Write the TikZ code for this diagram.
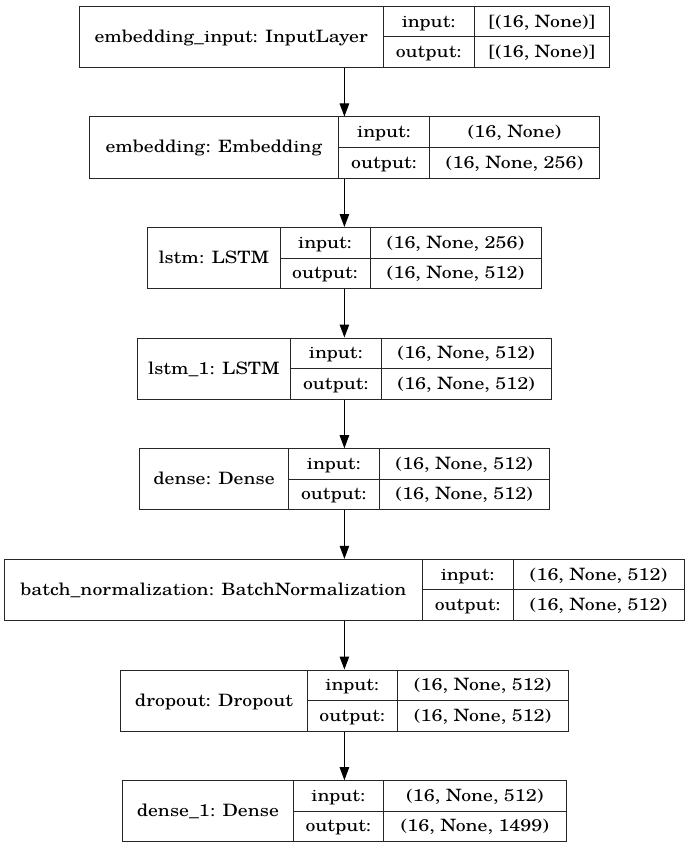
\documentclass[tikz,border=0pt]{standalone}
\usepackage{fontspec}
\setmainfont[FakeStretch=1.16]{TeX Gyre Schola}
\usetikzlibrary{arrows.meta,fit}
\tikzset{
  layerbox/.style={draw=black!85, line width=1pt, inner sep=0pt},
  cellline/.style={draw=black!85, line width=1pt},
  txt/.style={inner sep=0pt, anchor=base, font=\fontsize{17}{20}\selectfont},
  arr/.style={draw=black, line width=1pt, -{Triangle[length=13pt,width=9.5pt]}},
}
% #1 name, #2 top, #3 left, #4 divider1, #5 divider2, #6 label, #7 input, #8 output
\newcommand\layerbox[8]{%
  \coordinate (#1nw) at (#3,#2);
  \coordinate (#1se) at (688.8-#3,#2+61);
  \node[layerbox, fit=(#1nw)(#1se)] (#1) {};
  \draw[cellline] (#4,#2) -- (#4,#2+61);
  \draw[cellline] (#5,#2) -- (#5,#2+61);
  \draw[cellline] (#4,#2+30.5) -- (688.8-#3,#2+30.5);
  \node[txt] (#1lab) at ({(#3+#4)/2},#2+36) {#6};
  \node[txt] (#1ik) at ({(#4+#5)/2},#2+20.75) {input:};
  \node[txt] (#1ok) at ({(#4+#5)/2},#2+51.25) {output:};
  \node[txt] (#1iv) at ({(#5+688.8-#3)/2},#2+20.75) {#7};
  \node[txt] (#1ov) at ({(#5+688.8-#3)/2},#2+51.25) {#8};
}
\begin{document}
\begin{tikzpicture}[x=1pt,y=-1pt]
\useasboundingbox[fill=white] (0,0) rectangle (689,848);
\layerbox{L1}{6.5}{79}{383.3}{474}{embedding\_input: InputLayer}{[(16, None)]}{[(16, None)]}
\layerbox{L2}{117}{89}{338.7}{429.3}{embedding: Embedding}{(16, None)}{(16, None, 256)}
\layerbox{L3}{227.5}{147.7}{280}{370}{lstm: LSTM}{(16, None, 256)}{(16, None, 512)}
\layerbox{L4}{338}{137.3}{290.7}{381}{lstm\_1: LSTM}{(16, None, 512)}{(16, None, 512)}
\layerbox{L5}{448.7}{139.3}{288.7}{379}{dense: Dense}{(16, None, 512)}{(16, None, 512)}
\layerbox{L6}{559.3}{4.7}{422.3}{513}{batch\_normalization: BatchNormalization}{(16, None, 512)}{(16, None, 512)}
\layerbox{L7}{670}{120.7}{307.3}{397.3}{dropout: Dropout}{(16, None, 512)}{(16, None, 512)}
\layerbox{L8}{780.7}{122.7}{293}{383.7}{dense\_1: Dense}{(16, None, 512)}{(16, None, 1499)}
\draw[arr] (L1.south) -- (L1.south |- L2.north);
\draw[arr] (L2.south) -- (L2.south |- L3.north);
\draw[arr] (L3.south) -- (L3.south |- L4.north);
\draw[arr] (L4.south) -- (L4.south |- L5.north);
\draw[arr] (L5.south) -- (L5.south |- L6.north);
\draw[arr] (L6.south) -- (L6.south |- L7.north);
\draw[arr] (L7.south) -- (L7.south |- L8.north);
\end{tikzpicture}
\end{document}
